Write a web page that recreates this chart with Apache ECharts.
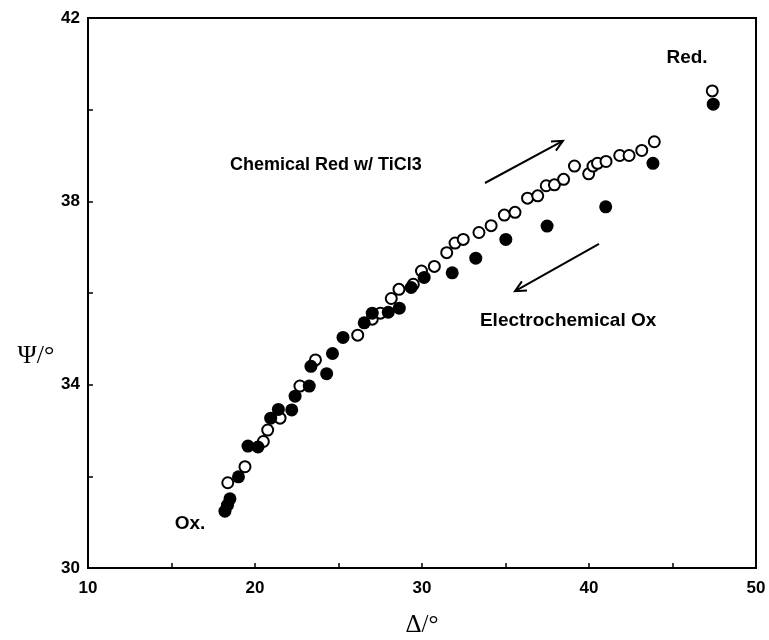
<!DOCTYPE html>
<html>
<head>
<meta charset="utf-8">
<script src="https://cdn.jsdelivr.net/npm/echarts@6/dist/echarts.min.js"></script>
<style>
html, body { margin: 0; background: #fff; }
#chart { width: 769px; height: 640px; }
</style>
</head>
<body>
<div id="chart"></div>
<script>
// open circles: chemical reduction with TiCl3
const deltaRed = [18.37, 19.40, 20.50, 20.76, 21.50, 22.69, 23.62, 26.15, 27.02, 27.51, 28.16, 28.62, 29.48, 29.97,
    30.74, 31.48, 31.98, 32.47, 33.41, 34.14, 34.93, 35.57, 36.32, 36.93, 37.44, 37.93, 38.48, 39.13, 39.98, 40.24,
    40.51, 41.02, 41.84, 42.40, 43.16, 43.91, 47.38]
const psiRed = [31.86, 32.21, 32.76, 33.01, 33.27, 33.97, 34.54, 35.08, 35.43, 35.56, 35.88, 36.08, 36.19, 36.48,
    36.58, 36.88, 37.09, 37.17, 37.32, 37.47, 37.70, 37.76, 38.07, 38.12, 38.34, 38.36, 38.48, 38.77, 38.60, 38.77,
    38.83, 38.87, 39.00, 39.00, 39.11, 39.30, 40.41]
// filled circles: electrochemical oxidation
const deltaOx = [18.20, 18.35, 18.50, 19.01, 19.58, 20.18, 20.94, 21.40, 22.20, 22.40, 23.25, 23.35, 24.29, 24.64,
    25.27, 26.54, 27.02, 27.98, 28.64, 29.35, 30.13, 31.81, 33.22, 35.02, 37.49, 41.00, 43.83, 47.44]
const psiOx = [31.24, 31.37, 31.51, 31.99, 32.66, 32.64, 33.27, 33.46, 33.45, 33.75, 33.97, 34.40, 34.24, 34.68,
    35.03, 35.35, 35.56, 35.58, 35.67, 36.12, 36.34, 36.44, 36.76, 37.17, 37.46, 37.88, 38.83, 40.12]

const xTickLabels = [10, 20, 30, 40, 50]
const yTickLabels = [30, 34, 38, 42]

const chart = echarts.init(document.getElementById('chart'))

const labelFont = {
    color: '#000',
    fontFamily: 'Liberation Sans, Arial, sans-serif',
    fontWeight: 'bold',
    fontSize: 17
}

const opt = {
    backgroundColor: '#fff',
    animation: false,
    grid: {
        left: 88,
        right: 13,
        top: 18,
        bottom: 72,
        outerBoundsMode: 'none',
        containLabel: false,
        show: true,
        borderColor: '#000',
        borderWidth: 2
    },
    xAxis: {
        type: 'value',
        min: 10,
        max: 50,
        interval: 5,
        name: 'Δ/°',
        nameLocation: 'middle',
        nameGap: 45,
        nameTextStyle: { color: '#000', fontFamily: 'Liberation Serif, serif', fontSize: 25 },
        splitLine: { show: false },
        axisLine: { lineStyle: { color: '#000', width: 2 } },
        axisTick: { inside: true, length: 5, lineStyle: { color: '#000', width: 1.5 } },
        axisLabel: Object.assign({
            margin: 12,
            formatter: v => xTickLabels.includes(v) ? String(v) : ''
        }, labelFont)
    },
    yAxis: {
        type: 'value',
        min: 30,
        max: 42,
        interval: 2,
        splitLine: { show: false },
        axisLine: { lineStyle: { color: '#000', width: 2 } },
        axisTick: { inside: true, length: 5, lineStyle: { color: '#000', width: 1.5 } },
        axisLabel: Object.assign({
            margin: 8,
            formatter: v => yTickLabels.includes(v) ? String(v) : ''
        }, labelFont)
    },
    series: [
        {
            name: 'Chemical Red w/ TiCl3',
            type: 'scatter',
            symbol: 'circle',
            symbolSize: 11,
            itemStyle: { color: '#fff', borderColor: '#000', borderWidth: 2, opacity: 1 },
            data: deltaRed.map((d, i) => [d, psiRed[i]])
        },
        {
            name: 'Electrochemical Ox',
            type: 'scatter',
            symbol: 'circle',
            symbolSize: 13,
            itemStyle: { color: '#000', opacity: 1 },
            data: deltaOx.map((d, i) => [d, psiOx[i]])
        }
    ]
}
chart.setOption(opt)

// annotations placed in data coordinates
const px = p => chart.convertToPixel({ gridIndex: 0 }, p)

function arrow(from, to) {
    const a = px(from), b = px(to)
    const ang = Math.atan2(b[1] - a[1], b[0] - a[0])
    const len = 12, spread = 0.45
    const w1 = [b[0] - len * Math.cos(ang - spread), b[1] - len * Math.sin(ang - spread)]
    const w2 = [b[0] - len * Math.cos(ang + spread), b[1] - len * Math.sin(ang + spread)]
    return [
        { type: 'line', shape: { x1: a[0], y1: a[1], x2: b[0], y2: b[1] }, style: { stroke: '#000', lineWidth: 2 } },
        { type: 'polyline', shape: { points: [w1, b, w2] }, style: { stroke: '#000', lineWidth: 2, fill: null } }
    ]
}

function note(text, p, align, size) {
    const q = px(p)
    return {
        type: 'text',
        x: q[0],
        y: q[1],
        style: {
            text: text,
            fill: '#000',
            font: 'bold ' + (size || 18) + 'px "Liberation Sans", Arial, sans-serif',
            textAlign: align,
            textVerticalAlign: 'middle'
        }
    }
}

const graphics = [
    note('Chemical Red w/ TiCl3', [18.5, 38.79], 'left', 18),
    note('Electrochemical Ox', [33.47, 35.39], 'left', 19),
    note('Red.', [45.87, 41.13], 'center', 19),
    note('Ox.', [16.11, 30.96], 'center', 19),
    {
        type: 'text',
        x: 36,
        y: 356,
        style: {
            text: 'Ψ/°',
            fill: '#000',
            font: '26px "Liberation Serif", serif',
            textAlign: 'center',
            textVerticalAlign: 'middle'
        }
    }
].concat(arrow([33.77, 38.40], [38.44, 39.32]), arrow([40.60, 37.07], [35.57, 36.04]))

chart.setOption({ graphic: graphics })
</script>
</body>
</html>
